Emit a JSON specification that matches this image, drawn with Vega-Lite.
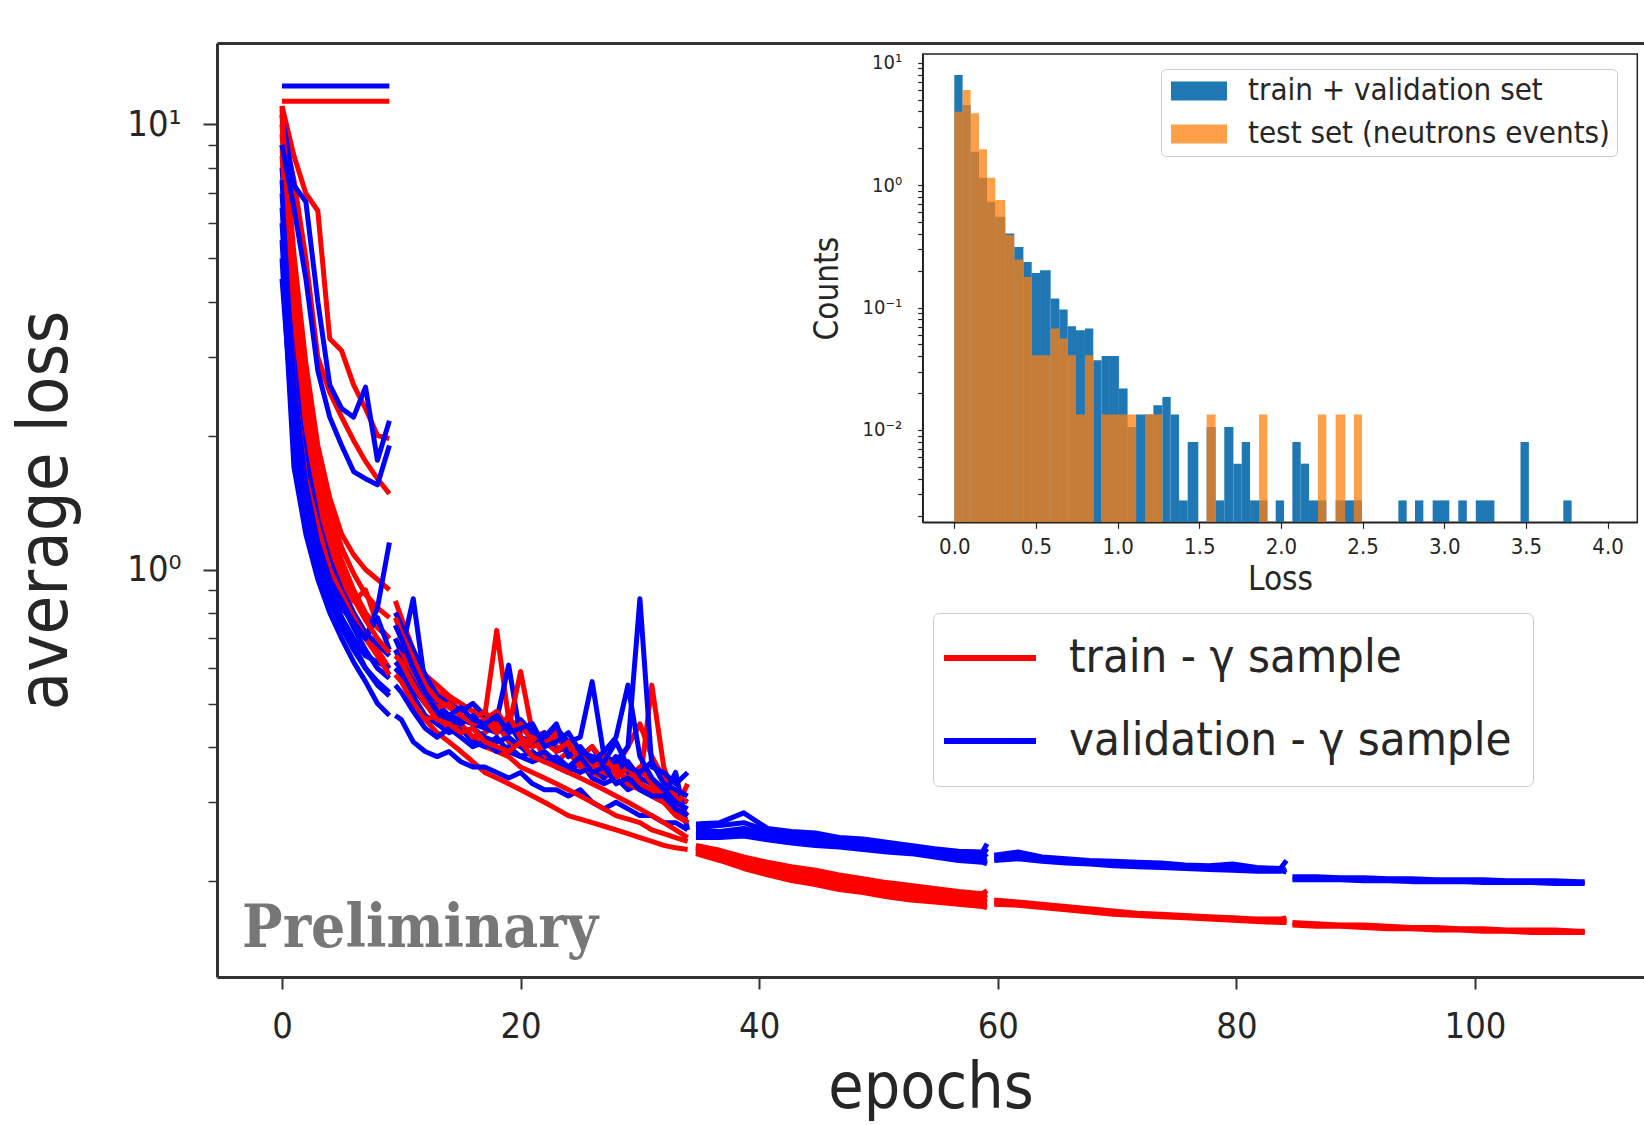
{
"$schema": "https://vega.github.io/schema/vega-lite/v6.json",
"width": 1427, "height": 934,
"autosize": {"type": "none"},
"padding": {"left": 217, "top": 43, "right": 0, "bottom": 148},
"background": "white",
"config": {
  "view": {"stroke": null},
  "font": "DejaVu Sans Condensed, Liberation Sans Narrow, DejaVu Sans, sans-serif",
  "axis": {"grid": false, "domainColor": "#333333", "tickColor": "#333333", "labelColor": "#262626", "titleColor": "#262626", "titleFontWeight": "normal", "labelFont": "DejaVu Sans Condensed, Liberation Sans Narrow, DejaVu Sans, sans-serif", "titleFont": "DejaVu Sans Condensed, Liberation Sans Narrow, DejaVu Sans, sans-serif"},
  "legend": {"labelFont": "DejaVu Sans Condensed, Liberation Sans Narrow, DejaVu Sans, sans-serif", "labelColor": "#262626", "labelLimit": 0}
},
"datasets": {
"loss": [
{"i":"A0v","c":"v","x":0,"y":12.2},{"i":"A0v","c":"v","x":9,"y":12.2},
{"i":"A0t","c":"t","x":0,"y":11.27},{"i":"A0t","c":"t","x":9,"y":11.27},
{"i":"A1t","c":"t","x":0,"y":10.5},{"i":"A1t","c":"t","x":1,"y":3.2},{"i":"A1t","c":"t","x":2,"y":1.9},{"i":"A1t","c":"t","x":3,"y":1.35},{"i":"A1t","c":"t","x":4,"y":1.1},{"i":"A1t","c":"t","x":5,"y":0.92},{"i":"A1t","c":"t","x":6,"y":0.8},{"i":"A1t","c":"t","x":7,"y":0.72},{"i":"A1t","c":"t","x":8,"y":0.66},{"i":"A1t","c":"t","x":9,"y":0.6},
{"i":"A1v","c":"v","x":0,"y":5.0},{"i":"A1v","c":"v","x":1,"y":1.7},{"i":"A1v","c":"v","x":2,"y":1.2},{"i":"A1v","c":"v","x":3,"y":0.95},{"i":"A1v","c":"v","x":4,"y":0.8},{"i":"A1v","c":"v","x":5,"y":0.7},{"i":"A1v","c":"v","x":6,"y":0.62},{"i":"A1v","c":"v","x":7,"y":0.56},{"i":"A1v","c":"v","x":8,"y":0.5},{"i":"A1v","c":"v","x":9,"y":0.47},
{"i":"A2t","c":"t","x":0,"y":9.5},{"i":"A2t","c":"t","x":1,"y":4.0},{"i":"A2t","c":"t","x":2,"y":2.2},{"i":"A2t","c":"t","x":3,"y":1.55},{"i":"A2t","c":"t","x":4,"y":1.25},{"i":"A2t","c":"t","x":5,"y":1.05},{"i":"A2t","c":"t","x":6,"y":0.9},{"i":"A2t","c":"t","x":7,"y":0.8},{"i":"A2t","c":"t","x":8,"y":0.74},{"i":"A2t","c":"t","x":9,"y":0.7},
{"i":"A2v","c":"v","x":0,"y":6.0},{"i":"A2v","c":"v","x":1,"y":2.2},{"i":"A2v","c":"v","x":2,"y":1.45},{"i":"A2v","c":"v","x":3,"y":1.1},{"i":"A2v","c":"v","x":4,"y":0.9},{"i":"A2v","c":"v","x":5,"y":0.78},{"i":"A2v","c":"v","x":6,"y":0.68},{"i":"A2v","c":"v","x":7,"y":0.6},{"i":"A2v","c":"v","x":8,"y":0.56},{"i":"A2v","c":"v","x":9,"y":0.53},
{"i":"A3t","c":"t","x":0,"y":11.0},{"i":"A3t","c":"t","x":1,"y":5.1},{"i":"A3t","c":"t","x":2,"y":2.9},{"i":"A3t","c":"t","x":3,"y":1.9},{"i":"A3t","c":"t","x":4,"y":1.45},{"i":"A3t","c":"t","x":5,"y":1.2},{"i":"A3t","c":"t","x":6,"y":1.08},{"i":"A3t","c":"t","x":7,"y":1.0},{"i":"A3t","c":"t","x":8,"y":0.95},{"i":"A3t","c":"t","x":9,"y":0.9},
{"i":"A3v","c":"v","x":0,"y":7.0},{"i":"A3v","c":"v","x":1,"y":2.6},{"i":"A3v","c":"v","x":2,"y":1.6},{"i":"A3v","c":"v","x":3,"y":1.2},{"i":"A3v","c":"v","x":4,"y":0.98},{"i":"A3v","c":"v","x":5,"y":0.84},{"i":"A3v","c":"v","x":6,"y":0.74},{"i":"A3v","c":"v","x":7,"y":0.66},{"i":"A3v","c":"v","x":8,"y":0.6},{"i":"A3v","c":"v","x":9,"y":0.57},
{"i":"A4t","c":"t","x":0,"y":8.5},{"i":"A4t","c":"t","x":1,"y":3.5},{"i":"A4t","c":"t","x":2,"y":2.0},{"i":"A4t","c":"t","x":3,"y":1.45},{"i":"A4t","c":"t","x":4,"y":1.15},{"i":"A4t","c":"t","x":5,"y":0.97},{"i":"A4t","c":"t","x":6,"y":0.85},{"i":"A4t","c":"t","x":7,"y":0.9},{"i":"A4t","c":"t","x":8,"y":0.75},{"i":"A4t","c":"t","x":9,"y":0.7},
{"i":"A4v","c":"v","x":0,"y":4.5},{"i":"A4v","c":"v","x":1,"y":2.0},{"i":"A4v","c":"v","x":2,"y":1.35},{"i":"A4v","c":"v","x":3,"y":1.05},{"i":"A4v","c":"v","x":4,"y":0.88},{"i":"A4v","c":"v","x":5,"y":0.78},{"i":"A4v","c":"v","x":6,"y":0.7},{"i":"A4v","c":"v","x":7,"y":0.64},{"i":"A4v","c":"v","x":8,"y":0.62},{"i":"A4v","c":"v","x":9,"y":0.6},
{"i":"A5t","c":"t","x":0,"y":10.0},{"i":"A5t","c":"t","x":1,"y":4.5},{"i":"A5t","c":"t","x":2,"y":2.5},{"i":"A5t","c":"t","x":3,"y":1.7},{"i":"A5t","c":"t","x":4,"y":1.35},{"i":"A5t","c":"t","x":5,"y":1.12},{"i":"A5t","c":"t","x":6,"y":0.98},{"i":"A5t","c":"t","x":7,"y":0.88},{"i":"A5t","c":"t","x":8,"y":0.82},{"i":"A5t","c":"t","x":9,"y":0.78},
{"i":"A5v","c":"v","x":0,"y":8.0},{"i":"A5v","c":"v","x":1,"y":3.0},{"i":"A5v","c":"v","x":2,"y":1.8},{"i":"A5v","c":"v","x":3,"y":1.3},{"i":"A5v","c":"v","x":4,"y":1.05},{"i":"A5v","c":"v","x":5,"y":0.9},{"i":"A5v","c":"v","x":6,"y":0.8},{"i":"A5v","c":"v","x":7,"y":0.72},{"i":"A5v","c":"v","x":8,"y":0.68},{"i":"A5v","c":"v","x":9,"y":0.64},
{"i":"A6t","c":"t","x":0,"y":9.0},{"i":"A6t","c":"t","x":1,"y":2.6},{"i":"A6t","c":"t","x":2,"y":1.6},{"i":"A6t","c":"t","x":3,"y":1.25},{"i":"A6t","c":"t","x":4,"y":1.0},{"i":"A6t","c":"t","x":5,"y":0.88},{"i":"A6t","c":"t","x":6,"y":0.78},{"i":"A6t","c":"t","x":7,"y":0.7},{"i":"A6t","c":"t","x":8,"y":0.64},{"i":"A6t","c":"t","x":9,"y":0.58},
{"i":"A6v","c":"v","x":0,"y":6.5},{"i":"A6v","c":"v","x":1,"y":2.4},{"i":"A6v","c":"v","x":2,"y":1.5},{"i":"A6v","c":"v","x":3,"y":1.15},{"i":"A6v","c":"v","x":4,"y":0.95},{"i":"A6v","c":"v","x":5,"y":0.82},{"i":"A6v","c":"v","x":6,"y":0.76},{"i":"A6v","c":"v","x":7,"y":0.7},{"i":"A6v","c":"v","x":8,"y":0.78},{"i":"A6v","c":"v","x":9,"y":0.66},
{"i":"A7t","c":"t","x":0,"y":11.0},{"i":"A7t","c":"t","x":1,"y":8.5},{"i":"A7t","c":"t","x":2,"y":7.0},{"i":"A7t","c":"t","x":3,"y":6.4},{"i":"A7t","c":"t","x":4,"y":3.3},{"i":"A7t","c":"t","x":5,"y":3.1},{"i":"A7t","c":"t","x":6,"y":2.6},{"i":"A7t","c":"t","x":7,"y":2.3},{"i":"A7t","c":"t","x":8,"y":2.0},{"i":"A7t","c":"t","x":9,"y":1.97},
{"i":"A7v","c":"v","x":0,"y":7.5},{"i":"A7v","c":"v","x":1,"y":2.6},{"i":"A7v","c":"v","x":2,"y":1.55},{"i":"A7v","c":"v","x":3,"y":1.15},{"i":"A7v","c":"v","x":4,"y":0.95},{"i":"A7v","c":"v","x":5,"y":0.85},{"i":"A7v","c":"v","x":6,"y":0.76},{"i":"A7v","c":"v","x":7,"y":0.7},{"i":"A7v","c":"v","x":8,"y":0.82},{"i":"A7v","c":"v","x":9,"y":1.15},
{"i":"A8t","c":"t","x":0,"y":10.0},{"i":"A8t","c":"t","x":1,"y":7.5},{"i":"A8t","c":"t","x":2,"y":5.0},{"i":"A8t","c":"t","x":3,"y":3.0},{"i":"A8t","c":"t","x":4,"y":2.5},{"i":"A8t","c":"t","x":5,"y":2.2},{"i":"A8t","c":"t","x":6,"y":1.95},{"i":"A8t","c":"t","x":7,"y":1.75},{"i":"A8t","c":"t","x":8,"y":1.6},{"i":"A8t","c":"t","x":9,"y":1.48},
{"i":"A8v","c":"v","x":0,"y":10.5},{"i":"A8v","c":"v","x":1,"y":7.3},{"i":"A8v","c":"v","x":2,"y":6.7},{"i":"A8v","c":"v","x":3,"y":4.0},{"i":"A8v","c":"v","x":4,"y":2.6},{"i":"A8v","c":"v","x":5,"y":2.3},{"i":"A8v","c":"v","x":6,"y":2.2},{"i":"A8v","c":"v","x":7,"y":2.57},{"i":"A8v","c":"v","x":8,"y":1.76},{"i":"A8v","c":"v","x":9,"y":2.16},
{"i":"A9t","c":"t","x":0,"y":10.8},{"i":"A9t","c":"t","x":1,"y":3.8},{"i":"A9t","c":"t","x":2,"y":2.1},{"i":"A9t","c":"t","x":3,"y":1.5},{"i":"A9t","c":"t","x":4,"y":1.2},{"i":"A9t","c":"t","x":5,"y":1.0},{"i":"A9t","c":"t","x":6,"y":0.86},{"i":"A9t","c":"t","x":7,"y":0.77},{"i":"A9t","c":"t","x":8,"y":0.7},{"i":"A9t","c":"t","x":9,"y":0.65},
{"i":"A9v","c":"v","x":0,"y":9.0},{"i":"A9v","c":"v","x":1,"y":6.5},{"i":"A9v","c":"v","x":2,"y":4.5},{"i":"A9v","c":"v","x":3,"y":2.8},{"i":"A9v","c":"v","x":4,"y":2.2},{"i":"A9v","c":"v","x":5,"y":1.9},{"i":"A9v","c":"v","x":6,"y":1.66},{"i":"A9v","c":"v","x":7,"y":1.6},{"i":"A9v","c":"v","x":8,"y":1.55},{"i":"A9v","c":"v","x":9,"y":1.9},
{"i":"A10v","c":"v","x":0,"y":5.5},{"i":"A10v","c":"v","x":1,"y":1.9},{"i":"A10v","c":"v","x":2,"y":1.3},{"i":"A10v","c":"v","x":3,"y":1.0},{"i":"A10v","c":"v","x":4,"y":0.85},{"i":"A10v","c":"v","x":5,"y":0.74},{"i":"A10v","c":"v","x":6,"y":0.66},{"i":"A10v","c":"v","x":7,"y":0.6},{"i":"A10v","c":"v","x":8,"y":0.55},{"i":"A10v","c":"v","x":9,"y":0.52},
{"i":"B1t","c":"t","x":9.5,"y":0.60},{"i":"B1t","c":"t","x":10,"y":0.58},{"i":"B1t","c":"t","x":11,"y":0.50},{"i":"B1t","c":"t","x":12,"y":0.46},{"i":"B1t","c":"t","x":13,"y":0.43},{"i":"B1t","c":"t","x":14,"y":0.41},{"i":"B1t","c":"t","x":15,"y":0.39},{"i":"B1t","c":"t","x":16,"y":0.37},{"i":"B1t","c":"t","x":17,"y":0.35},{"i":"B1t","c":"t","x":18,"y":0.34},{"i":"B1t","c":"t","x":19,"y":0.33},{"i":"B1t","c":"t","x":20,"y":0.32},{"i":"B1t","c":"t","x":21,"y":0.31},{"i":"B1t","c":"t","x":22,"y":0.30},{"i":"B1t","c":"t","x":23,"y":0.29},{"i":"B1t","c":"t","x":24,"y":0.28},{"i":"B1t","c":"t","x":25,"y":0.275},{"i":"B1t","c":"t","x":26,"y":0.27},{"i":"B1t","c":"t","x":27,"y":0.265},{"i":"B1t","c":"t","x":28,"y":0.26},{"i":"B1t","c":"t","x":29,"y":0.255},{"i":"B1t","c":"t","x":30,"y":0.25},{"i":"B1t","c":"t","x":31,"y":0.245},{"i":"B1t","c":"t","x":32,"y":0.24},{"i":"B1t","c":"t","x":33,"y":0.237},{"i":"B1t","c":"t","x":34,"y":0.235},
{"i":"B1v","c":"v","x":9.5,"y":0.47},{"i":"B1v","c":"v","x":10,"y":0.46},{"i":"B1v","c":"v","x":11,"y":0.41},{"i":"B1v","c":"v","x":12,"y":0.39},{"i":"B1v","c":"v","x":13,"y":0.38},{"i":"B1v","c":"v","x":14,"y":0.39},{"i":"B1v","c":"v","x":15,"y":0.37},{"i":"B1v","c":"v","x":16,"y":0.36},{"i":"B1v","c":"v","x":17,"y":0.36},{"i":"B1v","c":"v","x":18,"y":0.35},{"i":"B1v","c":"v","x":19,"y":0.34},{"i":"B1v","c":"v","x":20,"y":0.35},{"i":"B1v","c":"v","x":21,"y":0.33},{"i":"B1v","c":"v","x":22,"y":0.32},{"i":"B1v","c":"v","x":23,"y":0.32},{"i":"B1v","c":"v","x":24,"y":0.31},{"i":"B1v","c":"v","x":25,"y":0.32},{"i":"B1v","c":"v","x":26,"y":0.30},{"i":"B1v","c":"v","x":27,"y":0.29},{"i":"B1v","c":"v","x":28,"y":0.30},{"i":"B1v","c":"v","x":29,"y":0.29},{"i":"B1v","c":"v","x":30,"y":0.28},{"i":"B1v","c":"v","x":31,"y":0.28},{"i":"B1v","c":"v","x":32,"y":0.27},{"i":"B1v","c":"v","x":33,"y":0.27},{"i":"B1v","c":"v","x":34,"y":0.26},
{"i":"B2t","c":"t","x":9.5,"y":0.70},{"i":"B2t","c":"t","x":10,"y":0.66},{"i":"B2t","c":"t","x":11,"y":0.58},{"i":"B2t","c":"t","x":12,"y":0.52},{"i":"B2t","c":"t","x":13,"y":0.48},{"i":"B2t","c":"t","x":14,"y":0.46},{"i":"B2t","c":"t","x":15,"y":0.44},{"i":"B2t","c":"t","x":16,"y":0.42},{"i":"B2t","c":"t","x":17,"y":0.40},{"i":"B2t","c":"t","x":18,"y":0.39},{"i":"B2t","c":"t","x":19,"y":0.38},{"i":"B2t","c":"t","x":20,"y":0.36},{"i":"B2t","c":"t","x":21,"y":0.35},{"i":"B2t","c":"t","x":22,"y":0.34},{"i":"B2t","c":"t","x":23,"y":0.33},{"i":"B2t","c":"t","x":24,"y":0.32},{"i":"B2t","c":"t","x":25,"y":0.31},{"i":"B2t","c":"t","x":26,"y":0.30},{"i":"B2t","c":"t","x":27,"y":0.29},{"i":"B2t","c":"t","x":28,"y":0.28},{"i":"B2t","c":"t","x":29,"y":0.275},{"i":"B2t","c":"t","x":30,"y":0.27},{"i":"B2t","c":"t","x":31,"y":0.26},{"i":"B2t","c":"t","x":32,"y":0.255},{"i":"B2t","c":"t","x":33,"y":0.25},{"i":"B2t","c":"t","x":34,"y":0.245},
{"i":"B2v","c":"v","x":9.5,"y":0.60},{"i":"B2v","c":"v","x":10,"y":0.58},{"i":"B2v","c":"v","x":11,"y":0.52},{"i":"B2v","c":"v","x":12,"y":0.47},{"i":"B2v","c":"v","x":13,"y":0.45},{"i":"B2v","c":"v","x":14,"y":0.43},{"i":"B2v","c":"v","x":15,"y":0.44},{"i":"B2v","c":"v","x":16,"y":0.41},{"i":"B2v","c":"v","x":17,"y":0.40},{"i":"B2v","c":"v","x":18,"y":0.42},{"i":"B2v","c":"v","x":19,"y":0.39},{"i":"B2v","c":"v","x":20,"y":0.38},{"i":"B2v","c":"v","x":21,"y":0.37},{"i":"B2v","c":"v","x":22,"y":0.38},{"i":"B2v","c":"v","x":23,"y":0.36},{"i":"B2v","c":"v","x":24,"y":0.35},{"i":"B2v","c":"v","x":25,"y":0.37},{"i":"B2v","c":"v","x":26,"y":0.34},{"i":"B2v","c":"v","x":27,"y":0.33},{"i":"B2v","c":"v","x":28,"y":0.34},{"i":"B2v","c":"v","x":29,"y":0.32},{"i":"B2v","c":"v","x":30,"y":0.33},{"i":"B2v","c":"v","x":31,"y":0.31},{"i":"B2v","c":"v","x":32,"y":0.30},{"i":"B2v","c":"v","x":33,"y":0.30},{"i":"B2v","c":"v","x":34,"y":0.28},
{"i":"B3t","c":"t","x":9.5,"y":0.85},{"i":"B3t","c":"t","x":10,"y":0.78},{"i":"B3t","c":"t","x":11,"y":0.66},{"i":"B3t","c":"t","x":12,"y":0.58},{"i":"B3t","c":"t","x":13,"y":0.55},{"i":"B3t","c":"t","x":14,"y":0.52},{"i":"B3t","c":"t","x":15,"y":0.50},{"i":"B3t","c":"t","x":16,"y":0.48},{"i":"B3t","c":"t","x":17,"y":0.47},{"i":"B3t","c":"t","x":18,"y":0.73},{"i":"B3t","c":"t","x":19,"y":0.46},{"i":"B3t","c":"t","x":20,"y":0.44},{"i":"B3t","c":"t","x":21,"y":0.42},{"i":"B3t","c":"t","x":22,"y":0.43},{"i":"B3t","c":"t","x":23,"y":0.40},{"i":"B3t","c":"t","x":24,"y":0.39},{"i":"B3t","c":"t","x":25,"y":0.38},{"i":"B3t","c":"t","x":26,"y":0.37},{"i":"B3t","c":"t","x":27,"y":0.36},{"i":"B3t","c":"t","x":28,"y":0.38},{"i":"B3t","c":"t","x":29,"y":0.35},{"i":"B3t","c":"t","x":30,"y":0.33},{"i":"B3t","c":"t","x":31,"y":0.55},{"i":"B3t","c":"t","x":32,"y":0.36},{"i":"B3t","c":"t","x":33,"y":0.30},{"i":"B3t","c":"t","x":34,"y":0.28},
{"i":"B3v","c":"v","x":9.5,"y":0.70},{"i":"B3v","c":"v","x":10,"y":0.65},{"i":"B3v","c":"v","x":11,"y":0.86},{"i":"B3v","c":"v","x":12,"y":0.55},{"i":"B3v","c":"v","x":13,"y":0.50},{"i":"B3v","c":"v","x":14,"y":0.47},{"i":"B3v","c":"v","x":15,"y":0.46},{"i":"B3v","c":"v","x":16,"y":0.45},{"i":"B3v","c":"v","x":17,"y":0.44},{"i":"B3v","c":"v","x":18,"y":0.46},{"i":"B3v","c":"v","x":19,"y":0.61},{"i":"B3v","c":"v","x":20,"y":0.42},{"i":"B3v","c":"v","x":21,"y":0.41},{"i":"B3v","c":"v","x":22,"y":0.43},{"i":"B3v","c":"v","x":23,"y":0.39},{"i":"B3v","c":"v","x":24,"y":0.40},{"i":"B3v","c":"v","x":25,"y":0.38},{"i":"B3v","c":"v","x":26,"y":0.40},{"i":"B3v","c":"v","x":27,"y":0.36},{"i":"B3v","c":"v","x":28,"y":0.35},{"i":"B3v","c":"v","x":29,"y":0.37},{"i":"B3v","c":"v","x":30,"y":0.34},{"i":"B3v","c":"v","x":31,"y":0.33},{"i":"B3v","c":"v","x":32,"y":0.32},{"i":"B3v","c":"v","x":33,"y":0.31},{"i":"B3v","c":"v","x":34,"y":0.30},
{"i":"B4t","c":"t","x":9.5,"y":0.75},{"i":"B4t","c":"t","x":10,"y":0.70},{"i":"B4t","c":"t","x":11,"y":0.62},{"i":"B4t","c":"t","x":12,"y":0.57},{"i":"B4t","c":"t","x":13,"y":0.53},{"i":"B4t","c":"t","x":14,"y":0.51},{"i":"B4t","c":"t","x":15,"y":0.48},{"i":"B4t","c":"t","x":16,"y":0.50},{"i":"B4t","c":"t","x":17,"y":0.46},{"i":"B4t","c":"t","x":18,"y":0.48},{"i":"B4t","c":"t","x":19,"y":0.44},{"i":"B4t","c":"t","x":20,"y":0.59},{"i":"B4t","c":"t","x":21,"y":0.43},{"i":"B4t","c":"t","x":22,"y":0.41},{"i":"B4t","c":"t","x":23,"y":0.42},{"i":"B4t","c":"t","x":24,"y":0.40},{"i":"B4t","c":"t","x":25,"y":0.38},{"i":"B4t","c":"t","x":26,"y":0.40},{"i":"B4t","c":"t","x":27,"y":0.37},{"i":"B4t","c":"t","x":28,"y":0.36},{"i":"B4t","c":"t","x":29,"y":0.40},{"i":"B4t","c":"t","x":30,"y":0.45},{"i":"B4t","c":"t","x":31,"y":0.38},{"i":"B4t","c":"t","x":32,"y":0.34},{"i":"B4t","c":"t","x":33,"y":0.31},{"i":"B4t","c":"t","x":34,"y":0.30},
{"i":"B4v","c":"v","x":9.5,"y":0.80},{"i":"B4v","c":"v","x":10,"y":0.75},{"i":"B4v","c":"v","x":11,"y":0.66},{"i":"B4v","c":"v","x":12,"y":0.58},{"i":"B4v","c":"v","x":13,"y":0.52},{"i":"B4v","c":"v","x":14,"y":0.50},{"i":"B4v","c":"v","x":15,"y":0.48},{"i":"B4v","c":"v","x":16,"y":0.50},{"i":"B4v","c":"v","x":17,"y":0.47},{"i":"B4v","c":"v","x":18,"y":0.45},{"i":"B4v","c":"v","x":19,"y":0.44},{"i":"B4v","c":"v","x":20,"y":0.46},{"i":"B4v","c":"v","x":21,"y":0.43},{"i":"B4v","c":"v","x":22,"y":0.42},{"i":"B4v","c":"v","x":23,"y":0.44},{"i":"B4v","c":"v","x":24,"y":0.41},{"i":"B4v","c":"v","x":25,"y":0.42},{"i":"B4v","c":"v","x":26,"y":0.56},{"i":"B4v","c":"v","x":27,"y":0.38},{"i":"B4v","c":"v","x":28,"y":0.37},{"i":"B4v","c":"v","x":29,"y":0.40},{"i":"B4v","c":"v","x":30,"y":0.86},{"i":"B4v","c":"v","x":31,"y":0.36},{"i":"B4v","c":"v","x":32,"y":0.35},{"i":"B4v","c":"v","x":33,"y":0.33},{"i":"B4v","c":"v","x":34,"y":0.35},
{"i":"B5t","c":"t","x":9.5,"y":0.58},{"i":"B5t","c":"t","x":10,"y":0.56},{"i":"B5t","c":"t","x":11,"y":0.50},{"i":"B5t","c":"t","x":12,"y":0.46},{"i":"B5t","c":"t","x":13,"y":0.47},{"i":"B5t","c":"t","x":14,"y":0.44},{"i":"B5t","c":"t","x":15,"y":0.45},{"i":"B5t","c":"t","x":16,"y":0.42},{"i":"B5t","c":"t","x":17,"y":0.43},{"i":"B5t","c":"t","x":18,"y":0.45},{"i":"B5t","c":"t","x":19,"y":0.41},{"i":"B5t","c":"t","x":20,"y":0.40},{"i":"B5t","c":"t","x":21,"y":0.42},{"i":"B5t","c":"t","x":22,"y":0.38},{"i":"B5t","c":"t","x":23,"y":0.37},{"i":"B5t","c":"t","x":24,"y":0.39},{"i":"B5t","c":"t","x":25,"y":0.36},{"i":"B5t","c":"t","x":26,"y":0.35},{"i":"B5t","c":"t","x":27,"y":0.34},{"i":"B5t","c":"t","x":28,"y":0.36},{"i":"B5t","c":"t","x":29,"y":0.33},{"i":"B5t","c":"t","x":30,"y":0.32},{"i":"B5t","c":"t","x":31,"y":0.31},{"i":"B5t","c":"t","x":32,"y":0.30},{"i":"B5t","c":"t","x":33,"y":0.28},{"i":"B5t","c":"t","x":34,"y":0.27},
{"i":"B5v","c":"v","x":9.5,"y":0.55},{"i":"B5v","c":"v","x":10,"y":0.53},{"i":"B5v","c":"v","x":11,"y":0.48},{"i":"B5v","c":"v","x":12,"y":0.44},{"i":"B5v","c":"v","x":13,"y":0.42},{"i":"B5v","c":"v","x":14,"y":0.44},{"i":"B5v","c":"v","x":15,"y":0.42},{"i":"B5v","c":"v","x":16,"y":0.40},{"i":"B5v","c":"v","x":17,"y":0.41},{"i":"B5v","c":"v","x":18,"y":0.39},{"i":"B5v","c":"v","x":19,"y":0.40},{"i":"B5v","c":"v","x":20,"y":0.38},{"i":"B5v","c":"v","x":21,"y":0.39},{"i":"B5v","c":"v","x":22,"y":0.37},{"i":"B5v","c":"v","x":23,"y":0.38},{"i":"B5v","c":"v","x":24,"y":0.36},{"i":"B5v","c":"v","x":25,"y":0.35},{"i":"B5v","c":"v","x":26,"y":0.36},{"i":"B5v","c":"v","x":27,"y":0.34},{"i":"B5v","c":"v","x":28,"y":0.38},{"i":"B5v","c":"v","x":29,"y":0.35},{"i":"B5v","c":"v","x":30,"y":0.33},{"i":"B5v","c":"v","x":31,"y":0.32},{"i":"B5v","c":"v","x":32,"y":0.31},{"i":"B5v","c":"v","x":33,"y":0.35},{"i":"B5v","c":"v","x":34,"y":0.26},
{"i":"B6t","c":"t","x":9.5,"y":0.66},{"i":"B6t","c":"t","x":10,"y":0.64},{"i":"B6t","c":"t","x":11,"y":0.57},{"i":"B6t","c":"t","x":12,"y":0.52},{"i":"B6t","c":"t","x":13,"y":0.49},{"i":"B6t","c":"t","x":14,"y":0.50},{"i":"B6t","c":"t","x":15,"y":0.47},{"i":"B6t","c":"t","x":16,"y":0.46},{"i":"B6t","c":"t","x":17,"y":0.48},{"i":"B6t","c":"t","x":18,"y":0.44},{"i":"B6t","c":"t","x":19,"y":0.43},{"i":"B6t","c":"t","x":20,"y":0.45},{"i":"B6t","c":"t","x":21,"y":0.41},{"i":"B6t","c":"t","x":22,"y":0.40},{"i":"B6t","c":"t","x":23,"y":0.43},{"i":"B6t","c":"t","x":24,"y":0.38},{"i":"B6t","c":"t","x":25,"y":0.39},{"i":"B6t","c":"t","x":26,"y":0.37},{"i":"B6t","c":"t","x":27,"y":0.38},{"i":"B6t","c":"t","x":28,"y":0.35},{"i":"B6t","c":"t","x":29,"y":0.34},{"i":"B6t","c":"t","x":30,"y":0.36},{"i":"B6t","c":"t","x":31,"y":0.33},{"i":"B6t","c":"t","x":32,"y":0.31},{"i":"B6t","c":"t","x":33,"y":0.29},{"i":"B6t","c":"t","x":34,"y":0.33},
{"i":"B6v","c":"v","x":9.5,"y":0.66},{"i":"B6v","c":"v","x":10,"y":0.62},{"i":"B6v","c":"v","x":11,"y":0.56},{"i":"B6v","c":"v","x":12,"y":0.50},{"i":"B6v","c":"v","x":13,"y":0.47},{"i":"B6v","c":"v","x":14,"y":0.46},{"i":"B6v","c":"v","x":15,"y":0.45},{"i":"B6v","c":"v","x":16,"y":0.47},{"i":"B6v","c":"v","x":17,"y":0.44},{"i":"B6v","c":"v","x":18,"y":0.43},{"i":"B6v","c":"v","x":19,"y":0.45},{"i":"B6v","c":"v","x":20,"y":0.41},{"i":"B6v","c":"v","x":21,"y":0.40},{"i":"B6v","c":"v","x":22,"y":0.42},{"i":"B6v","c":"v","x":23,"y":0.45},{"i":"B6v","c":"v","x":24,"y":0.38},{"i":"B6v","c":"v","x":25,"y":0.40},{"i":"B6v","c":"v","x":26,"y":0.37},{"i":"B6v","c":"v","x":27,"y":0.39},{"i":"B6v","c":"v","x":28,"y":0.42},{"i":"B6v","c":"v","x":29,"y":0.55},{"i":"B6v","c":"v","x":30,"y":0.38},{"i":"B6v","c":"v","x":31,"y":0.34},{"i":"B6v","c":"v","x":32,"y":0.32},{"i":"B6v","c":"v","x":33,"y":0.30},{"i":"B6v","c":"v","x":34,"y":0.29},
{"i":"B7t","c":"t","x":9.5,"y":0.78},{"i":"B7t","c":"t","x":10,"y":0.72},{"i":"B7t","c":"t","x":11,"y":0.63},{"i":"B7t","c":"t","x":12,"y":0.55},{"i":"B7t","c":"t","x":13,"y":0.51},{"i":"B7t","c":"t","x":14,"y":0.49},{"i":"B7t","c":"t","x":15,"y":0.47},{"i":"B7t","c":"t","x":16,"y":0.45},{"i":"B7t","c":"t","x":17,"y":0.46},{"i":"B7t","c":"t","x":18,"y":0.43},{"i":"B7t","c":"t","x":19,"y":0.47},{"i":"B7t","c":"t","x":20,"y":0.42},{"i":"B7t","c":"t","x":21,"y":0.40},{"i":"B7t","c":"t","x":22,"y":0.41},{"i":"B7t","c":"t","x":23,"y":0.39},{"i":"B7t","c":"t","x":24,"y":0.41},{"i":"B7t","c":"t","x":25,"y":0.37},{"i":"B7t","c":"t","x":26,"y":0.36},{"i":"B7t","c":"t","x":27,"y":0.35},{"i":"B7t","c":"t","x":28,"y":0.34},{"i":"B7t","c":"t","x":29,"y":0.36},{"i":"B7t","c":"t","x":30,"y":0.33},{"i":"B7t","c":"t","x":31,"y":0.32},{"i":"B7t","c":"t","x":32,"y":0.30},{"i":"B7t","c":"t","x":33,"y":0.29},{"i":"B7t","c":"t","x":34,"y":0.27},
{"i":"B7v","c":"v","x":9.5,"y":0.62},{"i":"B7v","c":"v","x":10,"y":0.60},{"i":"B7v","c":"v","x":11,"y":0.54},{"i":"B7v","c":"v","x":12,"y":0.50},{"i":"B7v","c":"v","x":13,"y":0.47},{"i":"B7v","c":"v","x":14,"y":0.45},{"i":"B7v","c":"v","x":15,"y":0.43},{"i":"B7v","c":"v","x":16,"y":0.44},{"i":"B7v","c":"v","x":17,"y":0.42},{"i":"B7v","c":"v","x":18,"y":0.41},{"i":"B7v","c":"v","x":19,"y":0.42},{"i":"B7v","c":"v","x":20,"y":0.40},{"i":"B7v","c":"v","x":21,"y":0.38},{"i":"B7v","c":"v","x":22,"y":0.39},{"i":"B7v","c":"v","x":23,"y":0.37},{"i":"B7v","c":"v","x":24,"y":0.36},{"i":"B7v","c":"v","x":25,"y":0.38},{"i":"B7v","c":"v","x":26,"y":0.35},{"i":"B7v","c":"v","x":27,"y":0.36},{"i":"B7v","c":"v","x":28,"y":0.33},{"i":"B7v","c":"v","x":29,"y":0.34},{"i":"B7v","c":"v","x":30,"y":0.32},{"i":"B7v","c":"v","x":31,"y":0.31},{"i":"B7v","c":"v","x":32,"y":0.31},{"i":"B7v","c":"v","x":33,"y":0.29},{"i":"B7v","c":"v","x":34,"y":0.28},
{"i":"B8t","c":"t","x":9.5,"y":0.64},{"i":"B8t","c":"t","x":10,"y":0.62},{"i":"B8t","c":"t","x":11,"y":0.55},{"i":"B8t","c":"t","x":12,"y":0.50},{"i":"B8t","c":"t","x":13,"y":0.46},{"i":"B8t","c":"t","x":14,"y":0.45},{"i":"B8t","c":"t","x":15,"y":0.43},{"i":"B8t","c":"t","x":16,"y":0.44},{"i":"B8t","c":"t","x":17,"y":0.41},{"i":"B8t","c":"t","x":18,"y":0.40},{"i":"B8t","c":"t","x":19,"y":0.39},{"i":"B8t","c":"t","x":20,"y":0.41},{"i":"B8t","c":"t","x":21,"y":0.38},{"i":"B8t","c":"t","x":22,"y":0.37},{"i":"B8t","c":"t","x":23,"y":0.36},{"i":"B8t","c":"t","x":24,"y":0.35},{"i":"B8t","c":"t","x":25,"y":0.34},{"i":"B8t","c":"t","x":26,"y":0.33},{"i":"B8t","c":"t","x":27,"y":0.32},{"i":"B8t","c":"t","x":28,"y":0.31},{"i":"B8t","c":"t","x":29,"y":0.30},{"i":"B8t","c":"t","x":30,"y":0.29},{"i":"B8t","c":"t","x":31,"y":0.28},{"i":"B8t","c":"t","x":32,"y":0.27},{"i":"B8t","c":"t","x":33,"y":0.26},{"i":"B8t","c":"t","x":34,"y":0.25},
{"i":"B8v","c":"v","x":9.5,"y":0.75},{"i":"B8v","c":"v","x":10,"y":0.70},{"i":"B8v","c":"v","x":11,"y":0.60},{"i":"B8v","c":"v","x":12,"y":0.53},{"i":"B8v","c":"v","x":13,"y":0.48},{"i":"B8v","c":"v","x":14,"y":0.47},{"i":"B8v","c":"v","x":15,"y":0.49},{"i":"B8v","c":"v","x":16,"y":0.46},{"i":"B8v","c":"v","x":17,"y":0.45},{"i":"B8v","c":"v","x":18,"y":0.47},{"i":"B8v","c":"v","x":19,"y":0.43},{"i":"B8v","c":"v","x":20,"y":0.44},{"i":"B8v","c":"v","x":21,"y":0.45},{"i":"B8v","c":"v","x":22,"y":0.40},{"i":"B8v","c":"v","x":23,"y":0.41},{"i":"B8v","c":"v","x":24,"y":0.43},{"i":"B8v","c":"v","x":25,"y":0.39},{"i":"B8v","c":"v","x":26,"y":0.38},{"i":"B8v","c":"v","x":27,"y":0.37},{"i":"B8v","c":"v","x":28,"y":0.41},{"i":"B8v","c":"v","x":29,"y":0.36},{"i":"B8v","c":"v","x":30,"y":0.35},{"i":"B8v","c":"v","x":31,"y":0.37},{"i":"B8v","c":"v","x":32,"y":0.33},{"i":"B8v","c":"v","x":33,"y":0.32},{"i":"B8v","c":"v","x":34,"y":0.31},
{"i":"C1v","c":"v","x":34.7,"y":0.268},{"i":"C1v","c":"v","x":36.7,"y":0.270},{"i":"C1v","c":"v","x":38.7,"y":0.284},{"i":"C1v","c":"v","x":40.7,"y":0.262},{"i":"C1v","c":"v","x":42.7,"y":0.258},{"i":"C1v","c":"v","x":44.7,"y":0.256},{"i":"C1v","c":"v","x":46.7,"y":0.250},{"i":"C1v","c":"v","x":48.7,"y":0.248},{"i":"C1v","c":"v","x":50.7,"y":0.244},{"i":"C1v","c":"v","x":52.7,"y":0.240},{"i":"C1v","c":"v","x":54.7,"y":0.236},{"i":"C1v","c":"v","x":56.7,"y":0.233},{"i":"C1v","c":"v","x":58.7,"y":0.232},{"i":"C1v","c":"v","x":59.1,"y":0.242},
{"i":"C4v","c":"v","x":34.7,"y":0.263},{"i":"C4v","c":"v","x":36.7,"y":0.266},{"i":"C4v","c":"v","x":38.7,"y":0.270},{"i":"C4v","c":"v","x":40.7,"y":0.259},{"i":"C4v","c":"v","x":42.7,"y":0.254},{"i":"C4v","c":"v","x":44.7,"y":0.252},{"i":"C4v","c":"v","x":46.7,"y":0.246},{"i":"C4v","c":"v","x":48.7,"y":0.245},{"i":"C4v","c":"v","x":50.7,"y":0.241},{"i":"C4v","c":"v","x":52.7,"y":0.237},{"i":"C4v","c":"v","x":54.7,"y":0.234},{"i":"C4v","c":"v","x":56.7,"y":0.231},{"i":"C4v","c":"v","x":58.7,"y":0.228},{"i":"C4v","c":"v","x":59.1,"y":0.236},
{"i":"C2v","c":"v","x":34.7,"y":0.258},{"i":"C2v","c":"v","x":36.7,"y":0.258},{"i":"C2v","c":"v","x":38.7,"y":0.262},{"i":"C2v","c":"v","x":40.7,"y":0.255},{"i":"C2v","c":"v","x":42.7,"y":0.250},{"i":"C2v","c":"v","x":44.7,"y":0.247},{"i":"C2v","c":"v","x":46.7,"y":0.244},{"i":"C2v","c":"v","x":48.7,"y":0.240},{"i":"C2v","c":"v","x":50.7,"y":0.238},{"i":"C2v","c":"v","x":52.7,"y":0.234},{"i":"C2v","c":"v","x":54.7,"y":0.232},{"i":"C2v","c":"v","x":56.7,"y":0.228},{"i":"C2v","c":"v","x":58.7,"y":0.225},{"i":"C2v","c":"v","x":59.1,"y":0.230},
{"i":"C5v","c":"v","x":34.7,"y":0.254},{"i":"C5v","c":"v","x":36.7,"y":0.255},{"i":"C5v","c":"v","x":38.7,"y":0.257},{"i":"C5v","c":"v","x":40.7,"y":0.251},{"i":"C5v","c":"v","x":42.7,"y":0.247},{"i":"C5v","c":"v","x":44.7,"y":0.243},{"i":"C5v","c":"v","x":46.7,"y":0.241},{"i":"C5v","c":"v","x":48.7,"y":0.238},{"i":"C5v","c":"v","x":50.7,"y":0.235},{"i":"C5v","c":"v","x":52.7,"y":0.232},{"i":"C5v","c":"v","x":54.7,"y":0.229},{"i":"C5v","c":"v","x":56.7,"y":0.225},{"i":"C5v","c":"v","x":58.7,"y":0.223},{"i":"C5v","c":"v","x":59.1,"y":0.224},
{"i":"C3v","c":"v","x":34.7,"y":0.250},{"i":"C3v","c":"v","x":36.7,"y":0.250},{"i":"C3v","c":"v","x":38.7,"y":0.252},{"i":"C3v","c":"v","x":40.7,"y":0.247},{"i":"C3v","c":"v","x":42.7,"y":0.243},{"i":"C3v","c":"v","x":44.7,"y":0.240},{"i":"C3v","c":"v","x":46.7,"y":0.238},{"i":"C3v","c":"v","x":48.7,"y":0.235},{"i":"C3v","c":"v","x":50.7,"y":0.232},{"i":"C3v","c":"v","x":52.7,"y":0.230},{"i":"C3v","c":"v","x":54.7,"y":0.226},{"i":"C3v","c":"v","x":56.7,"y":0.222},{"i":"C3v","c":"v","x":58.7,"y":0.220},{"i":"C3v","c":"v","x":59.1,"y":0.218},
{"i":"C1t","c":"t","x":34.7,"y":0.240},{"i":"C1t","c":"t","x":36.7,"y":0.234},{"i":"C1t","c":"t","x":38.7,"y":0.226},{"i":"C1t","c":"t","x":40.7,"y":0.220},{"i":"C1t","c":"t","x":42.7,"y":0.215},{"i":"C1t","c":"t","x":44.7,"y":0.211},{"i":"C1t","c":"t","x":46.7,"y":0.206},{"i":"C1t","c":"t","x":48.7,"y":0.202},{"i":"C1t","c":"t","x":50.7,"y":0.198},{"i":"C1t","c":"t","x":52.7,"y":0.195},{"i":"C1t","c":"t","x":54.7,"y":0.192},{"i":"C1t","c":"t","x":56.7,"y":0.189},{"i":"C1t","c":"t","x":58.7,"y":0.187},{"i":"C1t","c":"t","x":59.1,"y":0.190},
{"i":"C4t","c":"t","x":34.7,"y":0.238},{"i":"C4t","c":"t","x":36.7,"y":0.231},{"i":"C4t","c":"t","x":38.7,"y":0.223},{"i":"C4t","c":"t","x":40.7,"y":0.216},{"i":"C4t","c":"t","x":42.7,"y":0.211},{"i":"C4t","c":"t","x":44.7,"y":0.207},{"i":"C4t","c":"t","x":46.7,"y":0.202},{"i":"C4t","c":"t","x":48.7,"y":0.198},{"i":"C4t","c":"t","x":50.7,"y":0.195},{"i":"C4t","c":"t","x":52.7,"y":0.191},{"i":"C4t","c":"t","x":54.7,"y":0.188},{"i":"C4t","c":"t","x":56.7,"y":0.186},{"i":"C4t","c":"t","x":58.7,"y":0.184},{"i":"C4t","c":"t","x":59.1,"y":0.186},
{"i":"C3t","c":"t","x":34.7,"y":0.236},{"i":"C3t","c":"t","x":36.7,"y":0.228},{"i":"C3t","c":"t","x":38.7,"y":0.220},{"i":"C3t","c":"t","x":40.7,"y":0.213},{"i":"C3t","c":"t","x":42.7,"y":0.207},{"i":"C3t","c":"t","x":44.7,"y":0.203},{"i":"C3t","c":"t","x":46.7,"y":0.198},{"i":"C3t","c":"t","x":48.7,"y":0.195},{"i":"C3t","c":"t","x":50.7,"y":0.191},{"i":"C3t","c":"t","x":52.7,"y":0.188},{"i":"C3t","c":"t","x":54.7,"y":0.185},{"i":"C3t","c":"t","x":56.7,"y":0.183},{"i":"C3t","c":"t","x":58.7,"y":0.181},{"i":"C3t","c":"t","x":59.1,"y":0.182},
{"i":"C5t","c":"t","x":34.7,"y":0.233},{"i":"C5t","c":"t","x":36.7,"y":0.225},{"i":"C5t","c":"t","x":38.7,"y":0.217},{"i":"C5t","c":"t","x":40.7,"y":0.210},{"i":"C5t","c":"t","x":42.7,"y":0.204},{"i":"C5t","c":"t","x":44.7,"y":0.199},{"i":"C5t","c":"t","x":46.7,"y":0.195},{"i":"C5t","c":"t","x":48.7,"y":0.191},{"i":"C5t","c":"t","x":50.7,"y":0.188},{"i":"C5t","c":"t","x":52.7,"y":0.185},{"i":"C5t","c":"t","x":54.7,"y":0.182},{"i":"C5t","c":"t","x":56.7,"y":0.180},{"i":"C5t","c":"t","x":58.7,"y":0.178},{"i":"C5t","c":"t","x":59.1,"y":0.178},
{"i":"C2t","c":"t","x":34.7,"y":0.230},{"i":"C2t","c":"t","x":36.7,"y":0.222},{"i":"C2t","c":"t","x":38.7,"y":0.213},{"i":"C2t","c":"t","x":40.7,"y":0.206},{"i":"C2t","c":"t","x":42.7,"y":0.200},{"i":"C2t","c":"t","x":44.7,"y":0.196},{"i":"C2t","c":"t","x":46.7,"y":0.191},{"i":"C2t","c":"t","x":48.7,"y":0.188},{"i":"C2t","c":"t","x":50.7,"y":0.184},{"i":"C2t","c":"t","x":52.7,"y":0.181},{"i":"C2t","c":"t","x":54.7,"y":0.179},{"i":"C2t","c":"t","x":56.7,"y":0.177},{"i":"C2t","c":"t","x":58.7,"y":0.175},{"i":"C2t","c":"t","x":59.1,"y":0.174},
{"i":"D1v","c":"v","x":59.7,"y":0.228},{"i":"D1v","c":"v","x":61.7,"y":0.232},{"i":"D1v","c":"v","x":63.7,"y":0.226},{"i":"D1v","c":"v","x":65.7,"y":0.224},{"i":"D1v","c":"v","x":67.7,"y":0.222},{"i":"D1v","c":"v","x":69.7,"y":0.221},{"i":"D1v","c":"v","x":71.7,"y":0.220},{"i":"D1v","c":"v","x":73.7,"y":0.219},{"i":"D1v","c":"v","x":75.7,"y":0.217},{"i":"D1v","c":"v","x":77.7,"y":0.216},{"i":"D1v","c":"v","x":79.7,"y":0.218},{"i":"D1v","c":"v","x":81.7,"y":0.214},{"i":"D1v","c":"v","x":83.7,"y":0.213},{"i":"D1v","c":"v","x":84.2,"y":0.222},
{"i":"D2v","c":"v","x":59.7,"y":0.222},{"i":"D2v","c":"v","x":61.7,"y":0.224},{"i":"D2v","c":"v","x":63.7,"y":0.221},{"i":"D2v","c":"v","x":65.7,"y":0.219},{"i":"D2v","c":"v","x":67.7,"y":0.218},{"i":"D2v","c":"v","x":69.7,"y":0.216},{"i":"D2v","c":"v","x":71.7,"y":0.215},{"i":"D2v","c":"v","x":73.7,"y":0.214},{"i":"D2v","c":"v","x":75.7,"y":0.213},{"i":"D2v","c":"v","x":77.7,"y":0.212},{"i":"D2v","c":"v","x":79.7,"y":0.211},{"i":"D2v","c":"v","x":81.7,"y":0.210},{"i":"D2v","c":"v","x":83.7,"y":0.210},{"i":"D2v","c":"v","x":84.2,"y":0.212},
{"i":"D3v","c":"v","x":59.7,"y":0.225},{"i":"D3v","c":"v","x":61.7,"y":0.227},{"i":"D3v","c":"v","x":63.7,"y":0.223},{"i":"D3v","c":"v","x":65.7,"y":0.222},{"i":"D3v","c":"v","x":67.7,"y":0.220},{"i":"D3v","c":"v","x":69.7,"y":0.218},{"i":"D3v","c":"v","x":71.7,"y":0.217},{"i":"D3v","c":"v","x":73.7,"y":0.216},{"i":"D3v","c":"v","x":75.7,"y":0.215},{"i":"D3v","c":"v","x":77.7,"y":0.214},{"i":"D3v","c":"v","x":79.7,"y":0.215},{"i":"D3v","c":"v","x":81.7,"y":0.212},{"i":"D3v","c":"v","x":83.7,"y":0.211},{"i":"D3v","c":"v","x":84.2,"y":0.209},
{"i":"D1t","c":"t","x":59.7,"y":0.181},{"i":"D1t","c":"t","x":61.7,"y":0.179},{"i":"D1t","c":"t","x":63.7,"y":0.177},{"i":"D1t","c":"t","x":65.7,"y":0.175},{"i":"D1t","c":"t","x":67.7,"y":0.173},{"i":"D1t","c":"t","x":69.7,"y":0.171},{"i":"D1t","c":"t","x":71.7,"y":0.169},{"i":"D1t","c":"t","x":73.7,"y":0.168},{"i":"D1t","c":"t","x":75.7,"y":0.167},{"i":"D1t","c":"t","x":77.7,"y":0.166},{"i":"D1t","c":"t","x":79.7,"y":0.165},{"i":"D1t","c":"t","x":81.7,"y":0.164},{"i":"D1t","c":"t","x":83.7,"y":0.164},{"i":"D1t","c":"t","x":84.2,"y":0.165},
{"i":"D2t","c":"t","x":59.7,"y":0.177},{"i":"D2t","c":"t","x":61.7,"y":0.176},{"i":"D2t","c":"t","x":63.7,"y":0.174},{"i":"D2t","c":"t","x":65.7,"y":0.172},{"i":"D2t","c":"t","x":67.7,"y":0.170},{"i":"D2t","c":"t","x":69.7,"y":0.168},{"i":"D2t","c":"t","x":71.7,"y":0.167},{"i":"D2t","c":"t","x":73.7,"y":0.166},{"i":"D2t","c":"t","x":75.7,"y":0.165},{"i":"D2t","c":"t","x":77.7,"y":0.164},{"i":"D2t","c":"t","x":79.7,"y":0.163},{"i":"D2t","c":"t","x":81.7,"y":0.162},{"i":"D2t","c":"t","x":83.7,"y":0.161},{"i":"D2t","c":"t","x":84.2,"y":0.161},
{"i":"D3t","c":"t","x":59.7,"y":0.179},{"i":"D3t","c":"t","x":61.7,"y":0.177},{"i":"D3t","c":"t","x":63.7,"y":0.175},{"i":"D3t","c":"t","x":65.7,"y":0.174},{"i":"D3t","c":"t","x":67.7,"y":0.172},{"i":"D3t","c":"t","x":69.7,"y":0.170},{"i":"D3t","c":"t","x":71.7,"y":0.168},{"i":"D3t","c":"t","x":73.7,"y":0.167},{"i":"D3t","c":"t","x":75.7,"y":0.166},{"i":"D3t","c":"t","x":77.7,"y":0.165},{"i":"D3t","c":"t","x":79.7,"y":0.164},{"i":"D3t","c":"t","x":81.7,"y":0.163},{"i":"D3t","c":"t","x":83.7,"y":0.162},{"i":"D3t","c":"t","x":84.2,"y":0.163},
{"i":"E1v","c":"v","x":84.7,"y":0.204},{"i":"E1v","c":"v","x":86.7,"y":0.204},{"i":"E1v","c":"v","x":88.7,"y":0.203},{"i":"E1v","c":"v","x":90.7,"y":0.203},{"i":"E1v","c":"v","x":92.7,"y":0.202},{"i":"E1v","c":"v","x":94.7,"y":0.202},{"i":"E1v","c":"v","x":96.7,"y":0.201},{"i":"E1v","c":"v","x":98.7,"y":0.201},{"i":"E1v","c":"v","x":100.7,"y":0.201},{"i":"E1v","c":"v","x":102.7,"y":0.200},{"i":"E1v","c":"v","x":104.7,"y":0.200},{"i":"E1v","c":"v","x":106.7,"y":0.200},{"i":"E1v","c":"v","x":108.7,"y":0.199},{"i":"E1v","c":"v","x":109.2,"y":0.199},
{"i":"E2v","c":"v","x":84.7,"y":0.201},{"i":"E2v","c":"v","x":86.7,"y":0.201},{"i":"E2v","c":"v","x":88.7,"y":0.201},{"i":"E2v","c":"v","x":90.7,"y":0.200},{"i":"E2v","c":"v","x":92.7,"y":0.200},{"i":"E2v","c":"v","x":94.7,"y":0.199},{"i":"E2v","c":"v","x":96.7,"y":0.199},{"i":"E2v","c":"v","x":98.7,"y":0.199},{"i":"E2v","c":"v","x":100.7,"y":0.198},{"i":"E2v","c":"v","x":102.7,"y":0.198},{"i":"E2v","c":"v","x":104.7,"y":0.198},{"i":"E2v","c":"v","x":106.7,"y":0.197},{"i":"E2v","c":"v","x":108.7,"y":0.197},{"i":"E2v","c":"v","x":109.2,"y":0.197},
{"i":"E1t","c":"t","x":84.7,"y":0.161},{"i":"E1t","c":"t","x":86.7,"y":0.160},{"i":"E1t","c":"t","x":88.7,"y":0.159},{"i":"E1t","c":"t","x":90.7,"y":0.159},{"i":"E1t","c":"t","x":92.7,"y":0.158},{"i":"E1t","c":"t","x":94.7,"y":0.157},{"i":"E1t","c":"t","x":96.7,"y":0.157},{"i":"E1t","c":"t","x":98.7,"y":0.156},{"i":"E1t","c":"t","x":100.7,"y":0.156},{"i":"E1t","c":"t","x":102.7,"y":0.155},{"i":"E1t","c":"t","x":104.7,"y":0.155},{"i":"E1t","c":"t","x":106.7,"y":0.155},{"i":"E1t","c":"t","x":108.7,"y":0.154},{"i":"E1t","c":"t","x":109.2,"y":0.154},
{"i":"E2t","c":"t","x":84.7,"y":0.159},{"i":"E2t","c":"t","x":86.7,"y":0.158},{"i":"E2t","c":"t","x":88.7,"y":0.158},{"i":"E2t","c":"t","x":90.7,"y":0.157},{"i":"E2t","c":"t","x":92.7,"y":0.156},{"i":"E2t","c":"t","x":94.7,"y":0.156},{"i":"E2t","c":"t","x":96.7,"y":0.155},{"i":"E2t","c":"t","x":98.7,"y":0.155},{"i":"E2t","c":"t","x":100.7,"y":0.154},{"i":"E2t","c":"t","x":102.7,"y":0.154},{"i":"E2t","c":"t","x":104.7,"y":0.153},{"i":"E2t","c":"t","x":106.7,"y":0.153},{"i":"E2t","c":"t","x":108.7,"y":0.153},{"i":"E2t","c":"t","x":109.2,"y":0.153}
],
"hist": [
{"lo":0.0,"hi":0.051,"n":7.93,"s":"b"},{"lo":0.051,"hi":0.1,"n":4.51,"s":"b"},{"lo":0.1,"hi":0.151,"n":1.87,"s":"b"},{"lo":0.151,"hi":0.2,"n":1.148,"s":"b"},{"lo":0.2,"hi":0.251,"n":0.731,"s":"b"},{"lo":0.251,"hi":0.312,"n":0.551,"s":"b"},{"lo":0.312,"hi":0.367,"n":0.403,"s":"b"},{"lo":0.367,"hi":0.423,"n":0.313,"s":"b"},{"lo":0.423,"hi":0.474,"n":0.236,"s":"b"},{"lo":0.474,"hi":0.525,"n":0.192,"s":"b"},{"lo":0.525,"hi":0.59,"n":0.202,"s":"b"},{"lo":0.59,"hi":0.643,"n":0.1186,"s":"b"},{"lo":0.643,"hi":0.694,"n":0.0964,"s":"b"},{"lo":0.694,"hi":0.745,"n":0.0705,"s":"b"},{"lo":0.745,"hi":0.8,"n":0.0653,"s":"b"},{"lo":0.8,"hi":0.851,"n":0.0675,"s":"b"},{"lo":0.851,"hi":0.902,"n":0.0371,"s":"b"},{"lo":0.902,"hi":0.953,"n":0.0403,"s":"b"},{"lo":0.953,"hi":1.008,"n":0.0403,"s":"b"},{"lo":1.008,"hi":1.061,"n":0.0218,"s":"b"},{"lo":1.061,"hi":1.113,"n":0.01058,"s":"b"},{"lo":1.113,"hi":1.168,"n":0.01336,"s":"b"},{"lo":1.168,"hi":1.219,"n":0.01336,"s":"b"},{"lo":1.219,"hi":1.274,"n":0.0159,"s":"b"},{"lo":1.274,"hi":1.325,"n":0.0186,"s":"b"},{"lo":1.325,"hi":1.376,"n":0.01336,"s":"b"},{"lo":1.376,"hi":1.429,"n":0.00266,"s":"b"},{"lo":1.429,"hi":1.494,"n":0.00798,"s":"b"},{"lo":1.545,"hi":1.6,"n":0.01058,"s":"b"},{"lo":1.6,"hi":1.653,"n":0.00266,"s":"b"},{"lo":1.653,"hi":1.709,"n":0.01058,"s":"b"},{"lo":1.709,"hi":1.76,"n":0.00531,"s":"b"},{"lo":1.76,"hi":1.811,"n":0.00798,"s":"b"},{"lo":1.811,"hi":1.866,"n":0.00266,"s":"b"},{"lo":1.866,"hi":1.917,"n":0.00266,"s":"b"},{"lo":1.968,"hi":2.019,"n":0.00266,"s":"b"},{"lo":2.07,"hi":2.121,"n":0.00798,"s":"b"},{"lo":2.121,"hi":2.172,"n":0.00531,"s":"b"},{"lo":2.172,"hi":2.227,"n":0.00266,"s":"b"},{"lo":2.227,"hi":2.278,"n":0.00266,"s":"b"},{"lo":2.335,"hi":2.447,"n":0.00266,"s":"b"},{"lo":2.447,"hi":2.496,"n":0.00266,"s":"b"},{"lo":2.719,"hi":2.77,"n":0.00266,"s":"b"},{"lo":2.821,"hi":2.872,"n":0.00266,"s":"b"},{"lo":2.929,"hi":3.031,"n":0.00266,"s":"b"},{"lo":3.086,"hi":3.138,"n":0.00266,"s":"b"},{"lo":3.193,"hi":3.307,"n":0.00266,"s":"b"},{"lo":3.467,"hi":3.518,"n":0.00798,"s":"b"},{"lo":3.729,"hi":3.78,"n":0.00266,"s":"b"},
{"lo":0.0,"hi":0.051,"n":3.98,"s":"o"},{"lo":0.051,"hi":0.1,"n":5.98,"s":"o"},{"lo":0.1,"hi":0.151,"n":3.86,"s":"o"},{"lo":0.151,"hi":0.2,"n":1.96,"s":"o"},{"lo":0.2,"hi":0.251,"n":1.148,"s":"o"},{"lo":0.251,"hi":0.312,"n":0.755,"s":"o"},{"lo":0.312,"hi":0.367,"n":0.391,"s":"o"},{"lo":0.367,"hi":0.423,"n":0.247,"s":"o"},{"lo":0.423,"hi":0.474,"n":0.178,"s":"o"},{"lo":0.474,"hi":0.525,"n":0.0408,"s":"o"},{"lo":0.525,"hi":0.59,"n":0.0408,"s":"o"},{"lo":0.59,"hi":0.643,"n":0.0675,"s":"o"},{"lo":0.643,"hi":0.694,"n":0.0559,"s":"o"},{"lo":0.694,"hi":0.745,"n":0.0408,"s":"o"},{"lo":0.745,"hi":0.8,"n":0.01336,"s":"o"},{"lo":0.8,"hi":0.851,"n":0.0408,"s":"o"},{"lo":0.902,"hi":0.953,"n":0.01336,"s":"o"},{"lo":0.953,"hi":1.008,"n":0.01336,"s":"o"},{"lo":1.008,"hi":1.061,"n":0.01336,"s":"o"},{"lo":1.061,"hi":1.113,"n":0.01336,"s":"o"},{"lo":1.168,"hi":1.219,"n":0.01336,"s":"o"},{"lo":1.219,"hi":1.274,"n":0.01336,"s":"o"},{"lo":1.545,"hi":1.6,"n":0.01336,"s":"o"},{"lo":1.866,"hi":1.917,"n":0.01336,"s":"o"},{"lo":2.227,"hi":2.278,"n":0.01336,"s":"o"},{"lo":2.335,"hi":2.394,"n":0.01336,"s":"o"},{"lo":2.447,"hi":2.496,"n":0.01336,"s":"o"}
]
},
"layer": [
  {
    "layer": [
      {
        "data": {"name": "loss"},
        "mark": {"type": "line", "strokeWidth": 5, "strokeJoin": "round"},
        "encoding": {
          "x": {"field": "x", "type": "quantitative",
                "scale": {"domain": [-5.45, 114.17], "nice": false, "zero": false},
                "axis": {"orient": "bottom", "values": [0, 20, 40, 60, 80, 100], "tickSize": 12, "tickWidth": 2, "domainWidth": 3, "labelFontSize": 36, "labelPadding": 20, "labelFlush": false, "title": "epochs", "titleFontSize": 64, "titlePadding": 12}},
          "y": {"field": "y", "type": "quantitative",
                "scale": {"type": "log", "domain": [0.1215, 15.24], "nice": false},
                "axis": {"orient": "left", "values": [1, 10], "labelExpr": "datum.value == 1 ? '10⁰' : '10¹'", "tickSize": 14, "tickWidth": 2, "domainWidth": 3, "labelFontSize": 36, "labelPadding": 22, "labelOverlap": false, "title": "average loss", "titleFontSize": 70, "titlePadding": 45}},
          "color": {"field": "c", "type": "nominal",
                    "scale": {"domain": ["t", "v"], "range": ["#ff0000", "#0000ff"]},
                    "legend": {"orient": "none", "legendX": 716, "legendY": 570, "title": null, "labelFontSize": 47, "labelExpr": "datum.label == 't' ? 'train - γ sample' : 'validation - γ sample'", "symbolType": "M-1.659,0L2.829,0", "symbolSize": 1681, "symbolStrokeWidth": 6, "labelOffset": 67.5, "padding": 21.5, "rowPadding": 35, "strokeColor": "#cccccc", "fillColor": "#ffffff", "cornerRadius": 6}},
          "detail": {"field": "i", "type": "nominal"}
        }
      },
      {
        "data": {"values": [{"label": "Preliminary"}]},
        "mark": {"type": "text", "font": "DejaVu Serif Condensed, DejaVu Serif", "fontWeight": "bold", "fontSize": 60, "color": "#777777", "align": "left", "baseline": "alphabetic"},
        "encoding": {
          "x": {"datum": -3.35, "type": "quantitative",
                "axis": {"orient": "top", "domain": true, "domainWidth": 3, "ticks": false, "labels": false, "title": null}},
          "y": {"datum": 0.1421, "type": "quantitative",
                "axis": {"orient": "left", "values": [0.2, 0.3, 0.4, 0.5, 0.6, 0.7, 0.8, 0.9, 2, 3, 4, 5, 6, 7, 8, 9], "tickSize": 9, "tickWidth": 1.5, "labels": false, "domain": false, "title": null}},
          "text": {"field": "label"}
        }
      }
    ],
    "resolve": {"axis": {"x": "independent", "y": "independent"}}
  },
  {
    "layer": [
      {
        "data": {"values": [{"k": 1}]},
        "mark": {"type": "rect", "fill": "#ffffff", "stroke": "#222222", "strokeWidth": 1.5},
        "encoding": {
          "x": {"datum": -0.1935, "type": "quantitative", "scale": {"domain": [-0.1935, 4.182], "range": [705.7, 1420.3], "nice": false, "zero": false}},
          "x2": {"datum": 4.182},
          "y": {"datum": 0.001762, "type": "quantitative", "scale": {"type": "log", "domain": [0.001762, 11.78], "range": [479.3, 11], "nice": false}},
          "y2": {"datum": 11.78}
        }
      },
      {
        "data": {"name": "hist"},
        "mark": {"type": "rect"},
        "encoding": {
          "x": {"field": "lo", "type": "quantitative",
                "scale": {"domain": [-0.1935, 4.182], "range": [705.7, 1420.3], "nice": false, "zero": false},
                "axis": {"orient": "bottom", "offset": -454.7, "values": [0, 0.5, 1, 1.5, 2, 2.5, 3, 3.5, 4], "format": ".1f", "tickSize": 6, "tickWidth": 1.2, "domainWidth": 1.5, "domainColor": "#222222", "tickColor": "#222222", "labelFontSize": 22, "labelPadding": 8, "labelFlush": false, "title": "Loss", "titleFontSize": 33, "titlePadding": 6, "zindex": 1}},
          "x2": {"field": "hi"},
          "y": {"field": "n", "type": "quantitative",
                "scale": {"type": "log", "domain": [0.001762, 11.78], "range": [479.3, 11], "nice": false},
                "axis": {"orient": "left", "offset": -705.7, "values": [0.002, 0.003, 0.004, 0.005, 0.006, 0.007, 0.008, 0.009, 0.01, 0.02, 0.03, 0.04, 0.05, 0.06, 0.07, 0.08, 0.09, 0.1, 0.2, 0.3, 0.4, 0.5, 0.6, 0.7, 0.8, 0.9, 1, 2, 3, 4, 5, 6, 7, 8, 9, 10], "labelExpr": "datum.value == 10 ? '10¹' : datum.value == 1 ? '10⁰' : datum.value == 0.1 ? '10⁻¹' : datum.value == 0.01 ? '10⁻²' : ''", "tickSize": 5, "tickWidth": 1.2, "domainWidth": 1.5, "domainColor": "#222222", "tickColor": "#222222", "labelFontSize": 20, "labelPadding": 16, "labelOverlap": false, "title": "Counts", "titleFontSize": 33, "titlePadding": 18, "zindex": 1}},
          "y2": {"datum": 0.001762},
          "color": {"field": "s", "type": "nominal",
                    "scale": {"domain": ["b", "o"], "range": ["#1f77b4", "#ff7f0e"]},
                    "legend": {"orient": "none", "legendX": 944, "legendY": 26, "title": null, "labelFontSize": 31, "labelExpr": "datum.label == 'b' ? 'train + validation set' : 'test set (neutrons events)'", "symbolType": "M-0.774,-0.613L2.839,-0.613L2.839,0.613L-0.774,0.613Z", "symbolSize": 961, "symbolStrokeWidth": 0, "labelOffset": 49.5, "padding": 6.5, "rowPadding": 11, "strokeColor": "#cccccc", "fillColor": "#ffffff", "cornerRadius": 5}},
          "opacity": {"field": "s", "type": "nominal", "scale": {"domain": ["b", "o"], "range": [1, 0.75]}}
        }
      }
    ]
  }
],
"resolve": {"scale": {"x": "independent", "y": "independent", "color": "independent", "opacity": "independent"}}
}
